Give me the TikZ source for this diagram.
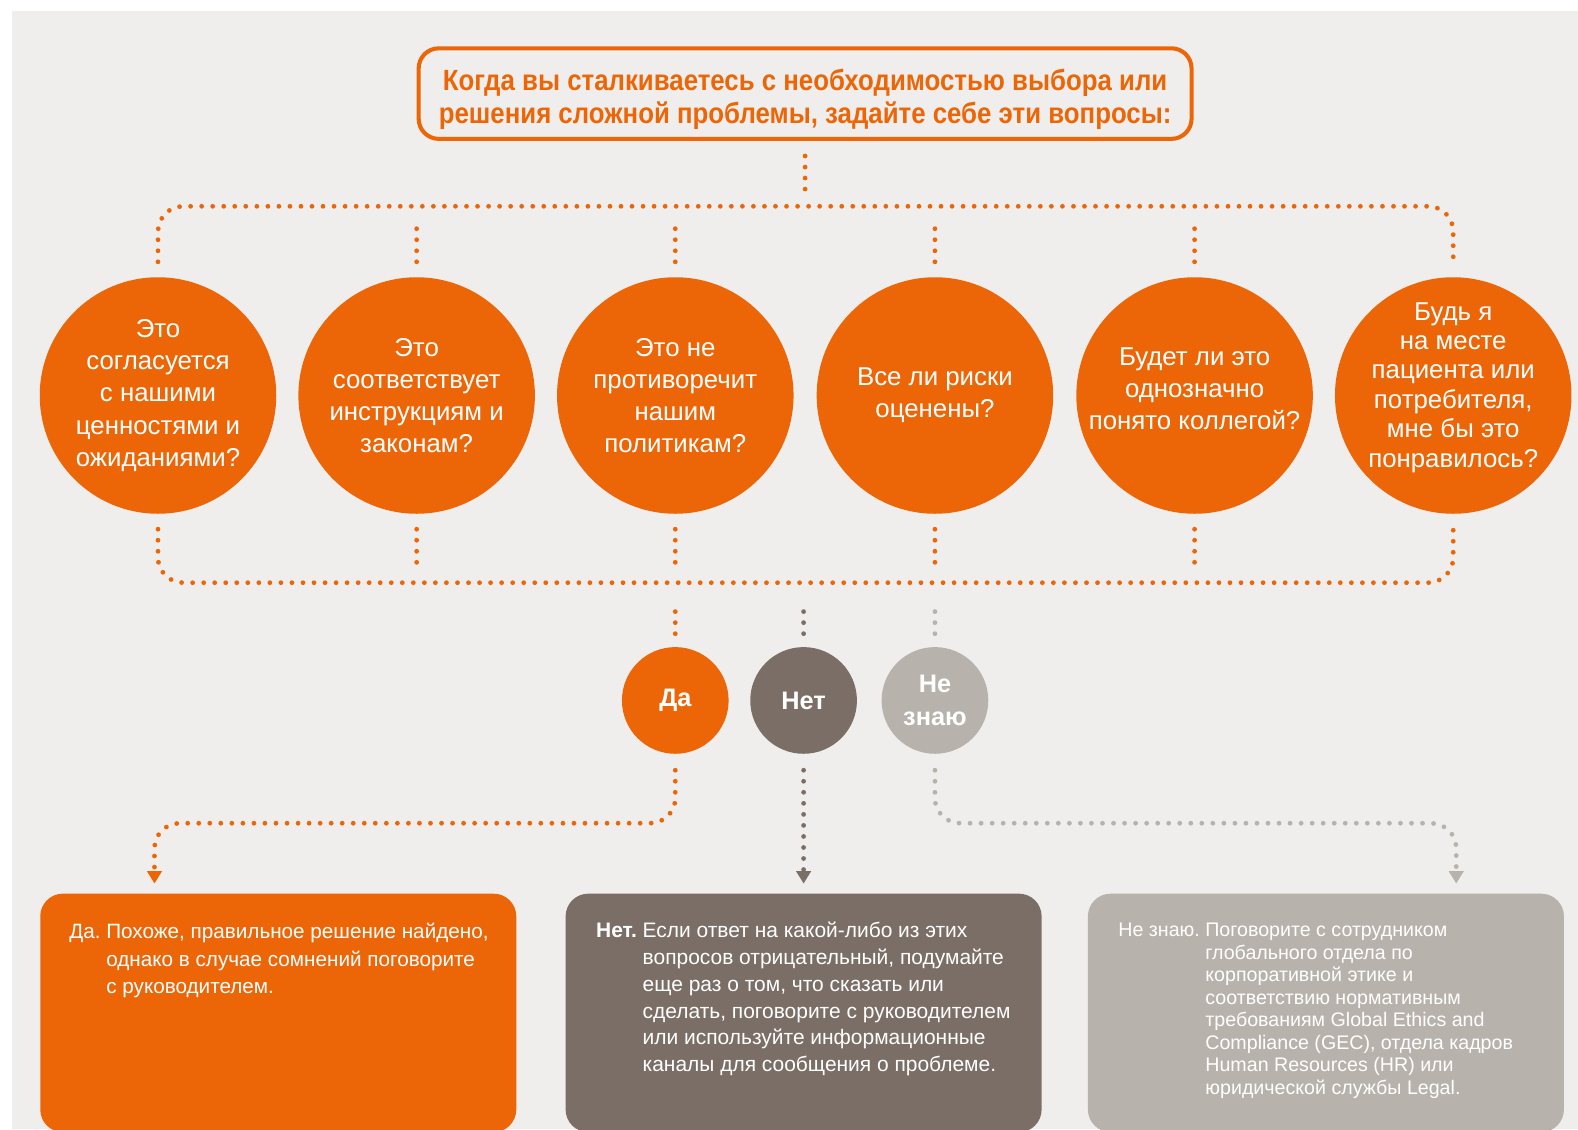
\documentclass[tikz,border=0pt]{standalone}
\usepackage{fontspec}
\setmainfont{Liberation Sans}
\newfontfamily\titlefont[FakeStretch=0.885]{Liberation Sans}
\usetikzlibrary{arrows.meta,calc}
\pgfdeclarelayer{paper}
\pgfdeclarelayer{bg}
\pgfsetlayers{paper,bg,main}
\definecolor{nvorange}{HTML}{EC6608}
\definecolor{nvbrown}{HTML}{7B6E66}
\definecolor{nvgrey}{HTML}{B7B2AC}
\definecolor{nvpaper}{HTML}{EFEEEC}
\tikzset{
  question/.style={circle, fill=nvorange, minimum size=4.70cm, inner sep=0pt},
  qtext/.style={text=white, align=center, inner sep=0pt, font=\fontsize{14.6}{18.2}\selectfont},
  answer/.style={circle, minimum size=2.12cm, inner sep=0pt, text=white, align=center, font=\bfseries\fontsize{14.3}{18.2}\selectfont},
  result/.style={rounded corners=0.45cm, minimum width=9.46cm, minimum height=4.74cm, inner sep=0pt},
  restext/.style={anchor=base west, inner sep=0pt, text=white},
  dots/.style={line width=2.7pt, line cap=round, dash pattern=on 0pt off 6.24pt},
  tip/.style={-{Triangle[width=8pt,length=7pt]}},
}

\begin{document}
\begin{tikzpicture}
        \begin{pgfonlayer}{paper}
                \fill[white] (0cm, 0cm) rectangle (31.360000cm, -22.440000cm);
                \fill[nvpaper] (0.240000cm, -0.220000cm) rectangle (31.360000cm, -22.440000cm);
        \end{pgfonlayer}
        \useasboundingbox (0cm, 0cm) rectangle (31.360000cm, -22.440000cm);
        \node (title) [draw=nvorange, line width=2.3pt, rounded corners=0.4cm, minimum width=15.360000cm, minimum height=1.800000cm, label={[text=nvorange, align=center, inner sep=0pt, yshift=-0.120000cm, font=\titlefont\bfseries\fontsize{16.5}{18.6}\selectfont]center:{Когда вы сталкиваетесь с необходимостью выбора или\\решения сложной проблемы, задайте себе эти вопросы:}}] at (16.000000cm, -1.860000cm) {};
        \node (q1) [question, label={[qtext]center:{Это\\согласуется\\с нашими\\ценностями и\\ожиданиями?}}] at (3.140000cm, -7.860000cm) {};
        \node (q2) [question, label={[qtext]center:{Это\\соответствует\\инструкциям и\\законам?}}] at (8.280000cm, -7.860000cm) {};
        \node (q3) [question, label={[qtext]center:{Это не\\противоречит\\нашим\\политикам?}}] at (13.420000cm, -7.860000cm) {};
        \node (q4) [question, label={[qtext]center:{Все ли риски\\оценены?}}] at (18.580000cm, -7.860000cm) {};
        \node (q5) [question, label={[qtext, yshift=0.140000cm]center:{Будет ли это\\однозначно\\понято коллегой?}}] at (23.740000cm, -7.860000cm) {};
        \node (q6) [question, label={[qtext, yshift=0.160000cm, font=\fontsize{14.6}{16.6}\selectfont]center:{Будь я\\на месте\\пациента или\\потребителя,\\мне бы это\\понравилось?}}] at (28.880000cm, -7.860000cm) {};
        \node (yes) [answer, fill=nvorange] at (13.420000cm, -13.920000cm) {Да};
        \node (no) [answer, fill=nvbrown] at (15.970000cm, -13.920000cm) {Нет};
        \node (maybe) [answer, fill=nvgrey] at (18.580000cm, -13.920000cm) {Не\\знаю};
        \node (yesbox) [result, fill=nvorange] at (5.530000cm, -20.130000cm) {};
        \node (nobox) [result, fill=nvbrown] at (15.970000cm, -20.130000cm) {};
        \node (maybebox) [result, fill=nvgrey] at (26.350000cm, -20.130000cm) {};
        \node (yestext) [restext, font=\fontsize{11.7}{15.36}\selectfont] at (1.370000cm, -18.660000cm) {\begin{tabular}[t]{@{}l@{\ }l@{}}
                Да. & Похоже, правильное решение найдено,\\
                & однако в случае сомнений поговорите\\
                & с руководителем.
        \end{tabular}};
        \node (notext) [restext, font=\fontsize{11.85}{15.1}\selectfont] at (11.840000cm, -18.640000cm) {\begin{tabular}[t]{@{}l@{\ }l@{}}
                \textbf{Нет.} & Если ответ на какой-либо из этих\\
                & вопросов отрицательный, подумайте\\
                & еще раз о том, что сказать или\\
                & сделать, поговорите с руководителем\\
                & или используйте информационные\\
                & каналы для сообщения о проблеме.
        \end{tabular}};
        \node (maybetext) [restext, font=\fontsize{11.1}{12.7}\selectfont] at (22.220000cm, -18.620000cm) {\begin{tabular}[t]{@{}l@{\ }l@{}}
                Не знаю. & Поговорите с сотрудником\\
                & глобального отдела по\\
                & корпоративной этике и\\
                & соответствию нормативным\\
                & требованиям Global Ethics and\\
                & Compliance (GEC), отдела кадров\\
                & Human Resources (HR) или\\
                & юридической службы Legal.
        \end{tabular}};
        \coordinate (bustop) at (16.000000cm, -4.100000cm);
        \coordinate (busbot) at (16.000000cm, -11.580000cm);
        \coordinate (yesbend) at (3.070000cm, -16.360000cm);
        \coordinate (yesin) at (3.070000cm, -17.560000cm);
        \coordinate (noin) at (15.970000cm, -17.560000cm);
        \coordinate (maybebend) at (28.940000cm, -16.360000cm);
        \coordinate (maybein) at (28.940000cm, -17.560000cm);
        \begin{pgfonlayer}{bg}
                \draw[dots, nvorange] ($(title.south)+(0,-0.30)$) -- ++(0,-0.70);
                \draw[dots, nvorange, rounded corners=0.5cm] ($(q1.north)+(0,0.30)$) |- (bustop) -| ($(q6.north)+(0,0.30)$);
                \draw[dots, nvorange] ($(q2.north)+(0,0.30)$) -- ++(0,0.80);
                \draw[dots, nvorange] ($(q3.north)+(0,0.30)$) -- ++(0,0.80);
                \draw[dots, nvorange] ($(q4.north)+(0,0.30)$) -- ++(0,0.80);
                \draw[dots, nvorange] ($(q5.north)+(0,0.30)$) -- ++(0,0.80);
                \draw[dots, nvorange, rounded corners=0.5cm] ($(q1.south)+(0,-0.30)$) |- (busbot) -| ($(q6.south)+(0,-0.30)$);
                \draw[dots, nvorange] ($(q2.south)+(0,-0.30)$) -- ++(0,-0.80);
                \draw[dots, nvorange] ($(q3.south)+(0,-0.30)$) -- ++(0,-0.80);
                \draw[dots, nvorange] ($(q4.south)+(0,-0.30)$) -- ++(0,-0.80);
                \draw[dots, nvorange] ($(q5.south)+(0,-0.30)$) -- ++(0,-0.80);
                \draw[dots, nvorange] ($(yes.north)+(0,0.26)$) -- ++(0,0.56);
                \draw[dots, nvbrown] ($(no.north)+(0,0.26)$) -- ++(0,0.56);
                \draw[dots, nvgrey] ($(maybe.north)+(0,0.26)$) -- ++(0,0.56);
                \draw[dots, tip, nvorange, rounded corners=0.5cm] ($(yes.south)+(0,-0.32)$) |- (yesbend) -- (yesin);
                \draw[dots, tip, nvbrown] ($(no.south)+(0,-0.32)$) -- (noin);
                \draw[dots, tip, nvgrey, rounded corners=0.5cm] ($(maybe.south)+(0,-0.32)$) |- (maybebend) -- (maybein);
        \end{pgfonlayer}
\end{tikzpicture}
\end{document}
